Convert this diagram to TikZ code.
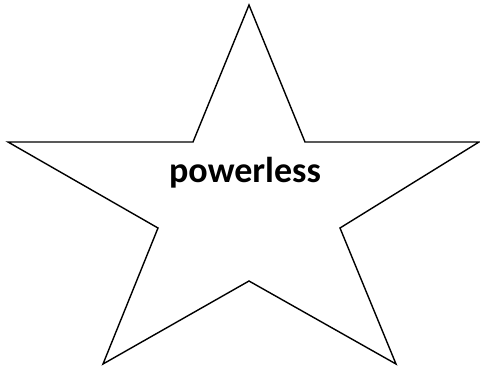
\documentclass[tikz,border=0pt]{standalone}
\usepackage{fontspec}
\setmainfont{Carlito}
\tikzset{starline/.style={draw=black,line width=1.4pt,line join=miter,fill=white},
lbl/.style={font=\fontsize{36}{40}\selectfont\bfseries,inner sep=0pt,anchor=base}}
\begin{document}
\begin{tikzpicture}[x=1pt,y=-1pt]
\useasboundingbox (0,0) rectangle (480,368);
\coordinate (t) at (249,5);
\coordinate (iul) at (193,142);
\coordinate (l) at (8,142);
\coordinate (ill) at (158,228);
\coordinate (bl) at (103,364);
\coordinate (ib) at (249,281);
\coordinate (br) at (396,364);
\coordinate (ilr) at (340,228);
\coordinate (r) at (479,142);
\coordinate (iur) at (305,142);
\draw[starline] (t) -- (iur) -- (r) -- (ilr) -- (br) -- (ib) -- (bl) -- (ill) -- (l) -- (iul) -- cycle;
\node[lbl] (txt) at (245,182) {powerless};
\end{tikzpicture}
\end{document}
